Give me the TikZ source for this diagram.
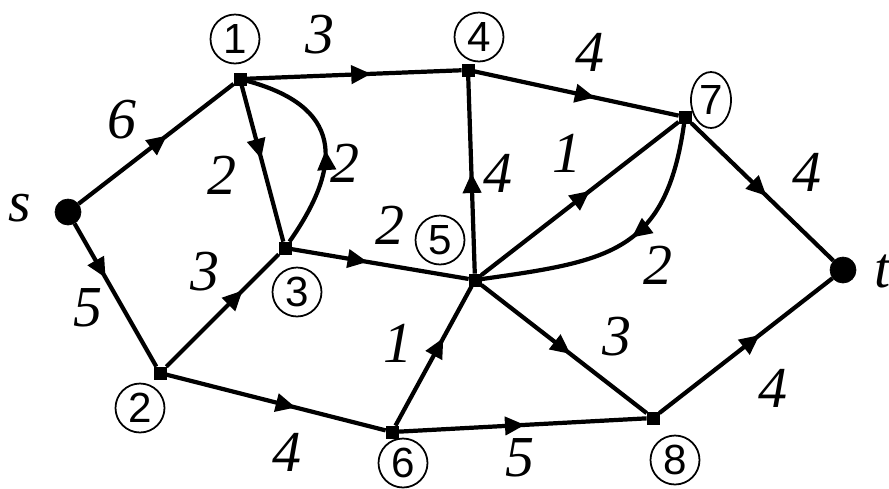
\documentclass[tikz,border=0pt]{standalone}
\usepackage{fontspec}
\usepackage{tikz}
\usetikzlibrary{arrows.meta,shapes.geometric,decorations.markings}
\setmainfont{Liberation Serif}
\newfontfamily\numfont{Liberation Sans}
\tikzset{
  vtx/.style={draw=black, fill=black, rectangle, inner sep=0pt, minimum size=2.4mm},
  term/.style={draw=black, fill=black, circle, inner sep=0pt, minimum size=5.2mm},
  tag/.style={draw=black, line width=1pt, circle, inner sep=0pt, minimum size=9.8mm, font=\numfont\fontsize{24}{24}\selectfont},
  wt/.style={inner sep=0pt, font=\fontsize{33}{33}\selectfont\itshape},
  wire/.style={line width=2.4pt, black},
  flow/.style={wire, postaction={decorate}, decoration={markings, mark=at position #1 with {\arrow{Triangle[length=4mm, width=3.6mm]}}}},
  flow/.default=0.55
}
\begin{document}
\begin{tikzpicture}[x=0.02cm, y=-0.02cm]
\useasboundingbox (0,0) rectangle (889,488);
% vertices
\node[term] (s) at (68,212) {};
\node[vtx] (v1) at (240,79) {};
\node[vtx] (v2) at (160,373) {};
\node[vtx] (v3) at (285,248) {};
\node[vtx] (v4) at (468,70) {};
\node[vtx] (v5) at (475,280) {};
\node[vtx] (v6) at (392,432) {};
\node[vtx] (v7) at (685,117) {};
\node[vtx] (v8) at (653,418) {};
\node[term] (t) at (843,270) {};

% vertex numbers
\node[tag] (n1) at (235,39) {1};
\node[tag] (n2) at (140,408) {2};
\node[tag] (n3) at (297,292) {3};
\node[tag] (n4) at (479,37) {4};
\node[tag] (n5) at (440,240) {5};
\node[tag] (n6) at (403,463) {6};
\node[tag, ellipse, minimum width=8mm, minimum height=11.2mm] (n7) at (711,100) {7};
\node[tag] (n8) at (675,460) {8};
\node[wt] (ls) at (20,208) {s};
\node[wt] (lt) at (883,271) {t};

% capacities
\node[wt] (c1) at (122,120) {6};
\node[wt] (c2) at (88,308) {5};
\node[wt] (c3) at (320,35) {3};
\node[wt] (c4) at (590,52) {4};
\node[wt] (c5) at (222,175) {2};
\node[wt] (c6) at (345,163) {2};
\node[wt] (c7) at (498,173) {4};
\node[wt] (c8) at (567,153) {1};
\node[wt] (c9) at (658,265) {2};
\node[wt] (c10) at (807,172) {4};
\node[wt] (c11) at (390,225) {2};
\node[wt] (c12) at (205,272) {3};
\node[wt] (c13) at (287,452) {4};
\node[wt] (c14) at (398,343) {1};
\node[wt] (c15) at (520,458) {5};
\node[wt] (c16) at (617,337) {3};
\node[wt] (c17) at (773,388) {4};

% arcs
\draw[flow=0.57] (s) -- (v1);
\draw[flow=0.38] (s) -- (v2);
\draw[flow=0.58] (v1) -- (v4);
\draw[flow=0.59] (v4) -- (v7);
\draw[flow=0.47] (v1) -- (v3);
\draw[flow=0.47] (v3) to[out=55, in=-15, looseness=1.5] (v1);
\draw[flow=0.51] (v5) -- (v4);
\draw[flow=0.55] (v5) -- (v7);
\draw[flow=0.45] (v7) to[out=-98, in=8, looseness=1.3] (v5);
\draw[flow=0.53] (v7) -- (t);
\draw[flow=0.43] (v3) -- (v5);
\draw[flow=0.68] (v2) -- (v3);
\draw[flow=0.59] (v2) -- (v6);
\draw[flow=0.63] (v6) -- (v5);
\draw[flow=0.51] (v6) -- (v8);
\draw[flow=0.54] (v5) -- (v8);
\draw[flow=0.58] (v8) -- (t);
\end{tikzpicture}
\end{document}
